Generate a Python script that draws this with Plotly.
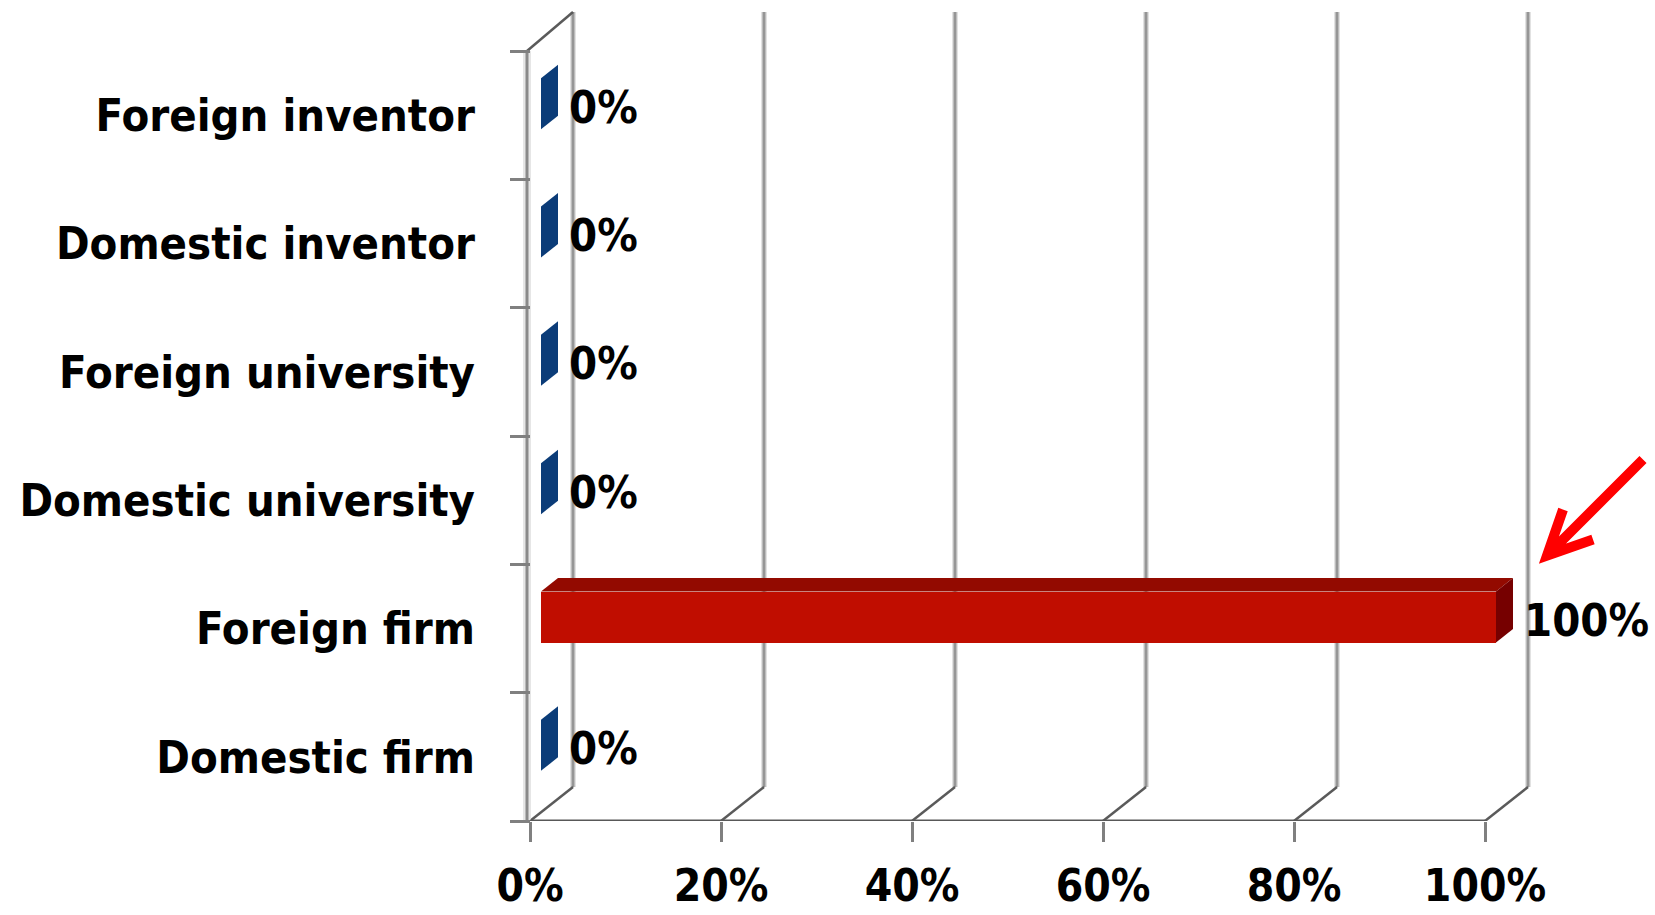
import plotly.graph_objects as go

# ---- data -------------------------------------------------------------
categories = ["Domestic firm", "Foreign firm", "Domestic university",
              "Foreign university", "Domestic inventor", "Foreign inventor"]
shares = [0, 100, 0, 0, 0, 0]
x_ticks = [0, 20, 40, 60, 80, 100]
x_tick_labels = ["0%", "20%", "40%", "60%", "80%", "100%"]
highlight = "Foreign firm"

# ---- frame geometry (pixels) ------------------------------------------
W, H = 1655, 915
X0_PX, X100_PX = 530, 1485          # 0% and 100% on the front floor edge
FLOOR_PX = 821                      # front floor edge, from the top
CAT_PX = 128.33                     # height of one category band
PXU = (X100_PX - X0_PX) / 100.0     # pixels per percent


def ux(px):
    return px / PXU


def uy(px):
    return px / CAT_PX


x_range = [-X0_PX / PXU, (W - X0_PX) / PXU]
y_range = [-0.5, -0.5 + FLOOR_PX / CAT_PX]
y_top = len(categories) - 0.5

# oblique depth of the walls / floor
DX = ux(43)
DY_FLOOR = uy(34)
DY_TOP = uy(39)

# bar placement inside the depth
BFX, BFY = ux(11), uy(11.5)        # shift of the bar's front face
BDX, BDY = ux(17), uy(13.5)        # bar depth
BAR_H = uy(51)

FONT = dict(family="DejaVu Sans Condensed, DejaVu Sans, sans-serif",
            size=45, color="#000000", weight="bold")
TICK_FONT = dict(FONT, size=44)
GRID = "#969696"
EDGE = "#5a5a5a"

fig = go.Figure()


def seg(x0, y0, x1, y1, color, width):
    # frame lines sit underneath the bars
    fig.add_shape(type="line", xref="x", yref="y", x0=x0, y0=y0, x1=x1, y1=y1,
                  line=dict(color=color, width=width), layer="below")


# back wall verticals and floor diagonals
for v in x_ticks:
    seg(v + DX, -0.5 + DY_FLOOR, v + DX, y_top + DY_TOP, "#e2e2e2", 6)
    seg(v + DX, -0.5 + DY_FLOOR, v + DX, y_top + DY_TOP, GRID, 3)
    seg(v, -0.5, v + DX, -0.5 + DY_FLOOR, EDGE, 2.5)

# left wall
seg(-ux(3), -0.5, -ux(3), y_top, "#e6e6e6", 8)
seg(-ux(3), -0.5, -ux(3), y_top, "#8a8a8a", 3)
seg(-ux(3), y_top, DX, y_top + DY_TOP, EDGE, 2.5)

# front floor edge
seg(0, -0.5 - uy(2), 100, -0.5 - uy(2), "#b4b4b4", 2)
seg(0, -0.5, 100, -0.5, "#585858", 3)

# ---- bars ----------------------------------------------------------------
palette = {
    "base": dict(front="#1b4f93", top="#143f78", side="#0b3c78"),
    "hl": dict(front="#c00d00", top="#930a00", side="#760000"),
}
ypos = list(range(len(categories)))
front_colors = [palette["hl" if c == highlight else "base"]["front"] for c in categories]

fig.add_trace(go.Bar(
    orientation="h", x=shares, y=[i + BFY for i in ypos], base=BFX,
    width=BAR_H, marker=dict(color=front_colors, line=dict(width=0)),
    hoverinfo="skip", showlegend=False))

for c, v, i in zip(categories, shares, ypos):
    col = palette["hl" if c == highlight else "base"]
    yb = i + BFY - BAR_H / 2
    yt = i + BFY + BAR_H / 2
    x1 = BFX + v
    if v > 0:
        fig.add_trace(go.Scatter(
            x=[BFX, x1, x1 + BDX, BFX + BDX, BFX],
            y=[yt, yt, yt + BDY, yt + BDY, yt],
            mode="lines", fill="toself", fillcolor=col["top"],
            line=dict(width=0), hoverinfo="skip", showlegend=False))
    fig.add_trace(go.Scatter(
        x=[x1, x1, x1 + BDX, x1 + BDX, x1],
        y=[yb, yt, yt + BDY, yb + BDY, yb],
        mode="lines", fill="toself", fillcolor=col["side"],
        line=dict(width=0), hoverinfo="skip", showlegend=False))
    fig.add_annotation(x=v + ux(37), y=i + uy(8), text=f"{v}%",
                       xref="x", yref="y", xanchor="left", yanchor="middle",
                       showarrow=False, font=FONT)

# call-out arrow pointing at the highlighted bar
hi = categories.index(highlight)
hv = shares[hi]
tip = (hv + ux(62), hi + uy(73))


def pt(dxp, dyp):
    return f"{tip[0] + ux(dxp):.4f},{tip[1] + uy(dyp):.4f}"


fig.add_shape(type="path", xref="x", yref="y",
              path=f"M {pt(96, 96)} L {pt(0, 0)} M {pt(16, 46)} L {pt(0, 0)} L {pt(46, 16)}",
              line=dict(color="#ff0000", width=10))

# ---- axes ----------------------------------------------------------------
fig.update_layout(
    width=W, height=H,
    margin=dict(l=0, r=0, t=0, b=H - FLOOR_PX, pad=0, autoexpand=False),
    paper_bgcolor="white", plot_bgcolor="white",
    bargap=0, showlegend=False,
    xaxis=dict(range=x_range, domain=[0, 1], tickvals=x_ticks, ticktext=x_tick_labels,
               ticks="outside", ticklen=20, tickwidth=3, tickcolor="#808080",
               ticklabelstandoff=6, tickfont=TICK_FONT, automargin=False,
               showgrid=False, zeroline=False, showline=False, fixedrange=True),
    yaxis=dict(range=y_range, tickvals=ypos, ticktext=categories,
               anchor="free", position=X0_PX / W, side="left",
               ticks="", ticklabelstandoff=55, tickfont=FONT, automargin=False,
               minor=dict(tickvals=[i - 0.5 for i in range(len(categories) + 1)],
                          ticks="outside", ticklen=20, tickwidth=3, tickcolor="#808080",
                          showgrid=False),
               showgrid=False, zeroline=False, showline=False, fixedrange=True),
)

fig.write_html("out.html")
